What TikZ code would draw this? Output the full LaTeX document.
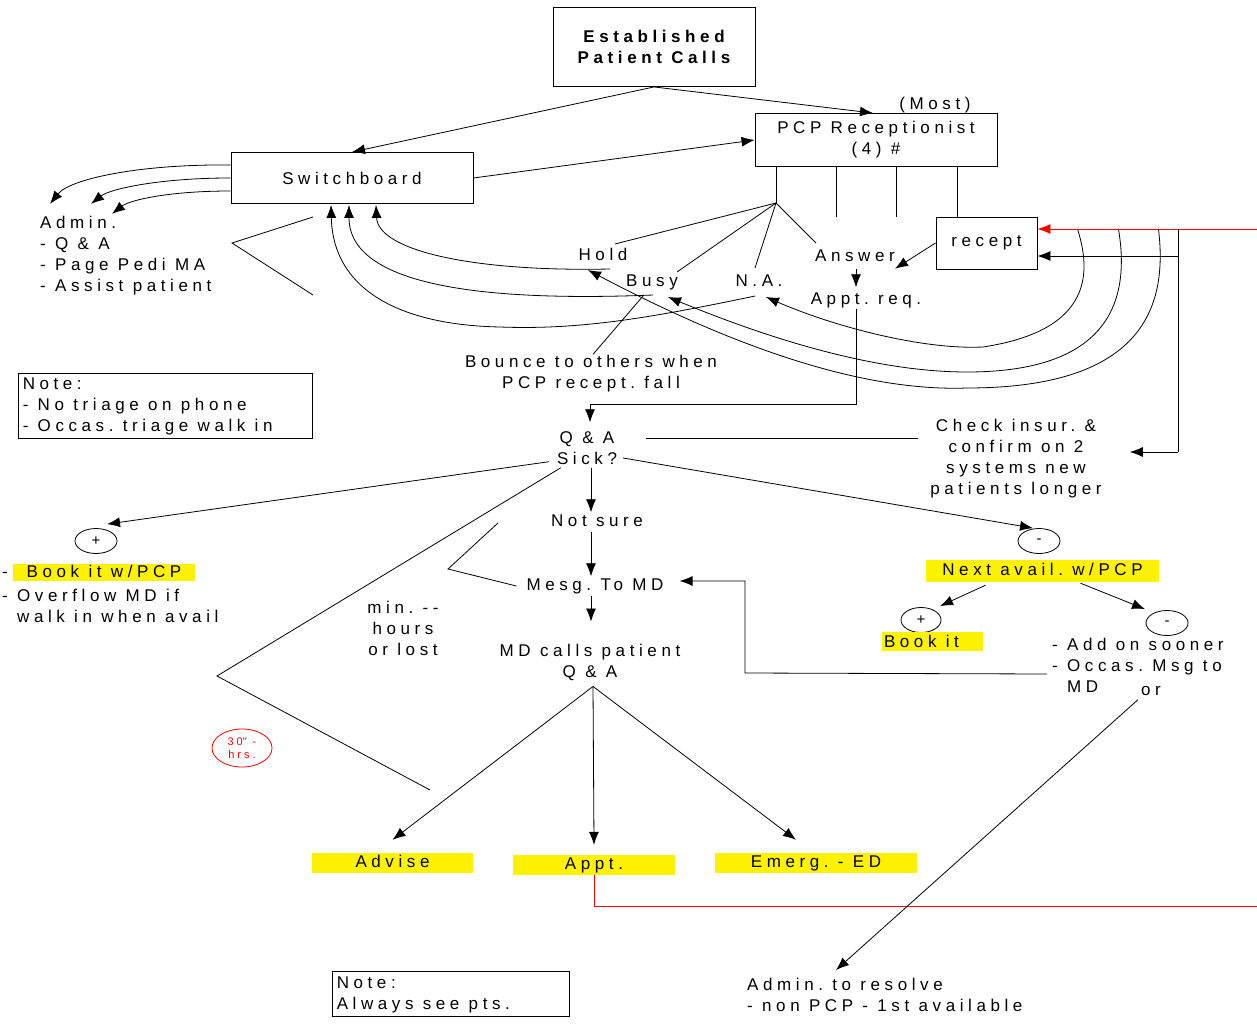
\documentclass[tikz,border=0pt]{standalone}
\usepackage{fontspec}
\setmainfont{Liberation Sans}[LetterSpace=27]
\usetikzlibrary{arrows.meta,calc,shapes.geometric}
\frenchspacing
\newcommand\fsz{\fontsize{17}{21}\selectfont\frenchspacing}
\begin{document}
\begin{tikzpicture}[x=1pt,y=-1pt,
  every node/.style={inner sep=0pt,font=\fsz},
  txt/.style={text height=12pt,text depth=3pt},
  box/.style={draw,line width=0.9pt},
  ln/.style={line width=0.8pt},
  arr/.style={ln,-{Latex[length=13pt,width=10pt]}},
  hl/.style={fill=yellow,txt},
  oval/.style={draw,ellipse,line width=0.8pt,font=\fontsize{15}{17}\selectfont,minimum width=42pt,minimum height=25pt},
]
\useasboundingbox (0,0) rectangle (1257,1024);
\fill[white] (0,0) rectangle (1257,1024);

% ---- nodes
\node[box,minimum width=202pt,minimum height=79pt,align=center,font=\fsz\bfseries] (est) at (654,47) {Established\\Patient Calls};
\node[box,minimum width=242pt,minimum height=51pt] (sw) at (352,178) {Switchboard};
\node[box,minimum width=242pt,minimum height=53pt,align=center] (pcp) at (876,140) {PCP Receptionist\\(4) \#};
\node (most) at (935,105) {(Most)};
\node[box,minimum width=101pt,minimum height=52pt] (recept) at (986.5,243) {recept};
\node[anchor=west,align=left] (admin) at (40,256) {Admin.\\- Q \& A\\- Page Pedi MA\\- Assist patient};
\node[txt] (hold) at (603,256) {Hold};
\node[txt] (busy) at (652,282) {Busy};
\node[txt] (na) at (759,282) {N.A.};
\node[txt] (answer) at (855,257) {Answer};
\node[txt] (apptreq) at (866,300) {Appt. req.};
\node[align=center] (bounce) at (591,374) {Bounce to others when\\PCP recept. fall};
\node[box,minimum width=294pt,minimum height=65pt] (note1) at (165,405.5) {};
\node[anchor=west,align=left] (note1t) at ($(note1.west)+(5,1)$) {Note:\\- No triage on phone\\- Occas. triage walk in};
\node[align=center] (qa) at (587,448) {Q \& A\\Sick?};
\node[align=center] (check) at (1016,459) {Check insur. \&\\confirm on 2\\systems new\\patients longer};
\node[txt] (notsure) at (597,522) {Not sure};
\node[txt] (mesg) at (595,586) {Mesg. To MD};
\node[align=center] (mdcalls) at (590,662) {MD calls patient\\Q \& A};
\node[align=center] (minh) at (403,628) {min. -{}-\\hours\\or lost};
\node[oval] (plus1) at (96,541) {+};
\node[oval] (minus1) at (1039,541) {-};
\node[oval,minimum width=40pt] (plus2) at (921,620) {+};
\node[oval] (minus2) at (1167,623) {-};
\node[txt] (dash1) at (5,573) {-};
\node[hl,minimum width=182pt,minimum height=17pt] (bookpcp) at (104,572.5) {Book it w/PCP};
\node[anchor=west,align=left] (overflow) at (2,606) {- Overflow MD if\\\hphantom{- }walk in when avail};
\node[hl,minimum width=233pt,minimum height=22pt] (nextav) at (1042.5,571) {Next avail. w/PCP};
\node[hl,minimum width=101pt,minimum height=19pt] (bookit) at (932.5,641.5) {};
\node[txt,anchor=west] (bookitt) at ($(bookit.west)+(2,1)$) {Book it};
\node[anchor=west,align=left] (addon) at (1052,665) {- Add on sooner\\- Occas. Msg to\\\hphantom{- }MD};
\node[txt] (ortext) at (1151,691) {or};
\node[hl,minimum width=161pt,minimum height=20pt] (adv) at (392.5,863) {Advise};
\node[hl,minimum width=162pt,minimum height=20pt] (appt) at (594,865) {Appt.};
\node[hl,minimum width=202pt,minimum height=20pt] (emerg) at (816,863) {Emerg. - ED};
\node[anchor=west,align=left] (resolve) at (747,995) {Admin. to resolve\\- non PCP - 1st available};
\node[box,minimum width=237pt,minimum height=45pt] (note2) at (450.5,993.5) {};
\node[anchor=west,align=left] (note2t) at ($(note2.west)+(5,1)$) {Note:\\Always see pts.};
\node[draw=red,ellipse,line width=0.8pt,text=red,minimum width=60pt,minimum height=38pt,align=center,font=\fontsize{11}{13}\selectfont] (thirty) at (242,748) {30\textquotedbl{} -\\hrs.};

% ---- coordinates
\coordinate (fan) at (776,203);
\coordinate (v2) at (836,217);
\coordinate (v3) at (896,217);
\coordinate (v4) at (957,217);
\coordinate (redin) at (1257,229);
\coordinate (vj) at (1178,229);
\coordinate (vb) at (1178,452);
\coordinate (r2) at ($(recept.east)+(0,13)$);
\coordinate (redout) at (1257,906);
\coordinate (mc) at (745,673);

% ---- connectors top
\draw[arr] (est.south) -- (sw.north);
\draw[arr] (est.south) -- ($(pcp.north)+(-3,0)$);
\draw[arr] (sw.east) -- (pcp.west);
\draw[arr] ($(sw.west)+(0,-13)$) .. controls +(-91,-1) and +(20,-25) .. ($(admin.north west)+(10,-12.5)$);
\draw[arr] (sw.west) .. controls +(-71,0) and +(19,-15) .. ($(admin.north west)+(51,-12.5)$);
\draw[arr] ($(sw.west)+(0,13)$) .. controls +(-61,0) and +(18,-14) .. ($(admin.north west)+(72,-2.5)$);
\draw[ln] (313,217) -- (232,243) -- (313,295);

\draw[ln] (fan |- pcp.south) -- (fan);
\draw[ln] (v2 |- pcp.south) -- (v2);
\draw[ln] (v3 |- pcp.south) -- (v3);
\draw[ln] (v4 |- pcp.south) -- (v4 |- recept.north);
\draw[ln] (fan) -- ($(hold)+(12,-12)$);
\draw[ln] (fan) -- ($(busy)+(25,-10)$);
\draw[ln] (fan) -- ($(na)+(-4,-14)$);
\draw[ln] (fan) -- ($(answer)+(-39,-14)$);
\draw[arr] ($(answer.south)+(1,4)$) -- ($(apptreq.north)+(-10,-5)$);
\draw[arr] (recept.west) -- ($(answer.south east)+(0,4)$);
\draw[arr] ($(apptreq.south)+(-10,1)$) |- ($(qa.north)+(3,-27)$) -- ($(qa.north)+(3,-9)$);

% curves into switchboard
\draw[arr] ($(hold)+(7,13)$) .. controls +(-140,3) and +(2,45) .. ($(sw.south)+(24,1)$);
\draw[arr] ($(busy)+(1,13)$) .. controls +(-173,7) and +(0,80) .. ($(sw.south)+(-3,1)$);
\draw[arr] ($(na)+(-4,14)$) .. controls +(-105,22) and +(80,3) .. (500,327) .. controls +(-100,-2) and +(2,85) .. ($(sw.south)+(-21,1)$);
\draw[ln] ($(bounce.north)+(2,-1)$) -- ($(busy)+(-9,14)$);

% big right curves
\draw[arr] ($(recept.east)+(40,-14)$) .. controls +(13,41) and +(112,-17) .. (983,347) .. controls +(-63,3) and +(64,28) .. ($(na)+(7,15)$);
\draw[arr] ($(recept.east)+(81,-14)$) .. controls +(12,71) and +(143,0) .. (967,372) .. controls +(-97,0) and +(92,38) .. ($(busy)+(16,15)$);
\draw[arr] ($(recept.east)+(121,-14)$) .. controls +(10,81) and +(173,0) .. (967,388) .. controls +(-107,4) and +(142,75) .. ($(hold)+(-15,14)$);

\draw[arr,red] (redin) -- (redin -| recept.east);
\draw[ln] (vj) -- (vb);
\draw[arr] (vb) -- ($(check.east)+(28,-7)$);
\draw[arr] (vj |- r2) -- (r2);

% middle
\draw[ln] ($(qa.east)+(29,-10)$) -- ($(check.west)+(-12,-21)$);
\draw[arr] ($(qa.south west)+(-8,-3)$) -- ($(plus1.north)+(11,-4)$);
\draw[arr] ($(qa.east)+(6,10)$) -- ($(minus1.north)+(-6,0)$);
\draw[arr] ($(qa.south)+(4,3)$) -- ($(notsure.north)+(-6,-2)$);
\draw[arr] ($(notsure.south)+(-6,2)$) -- ($(mesg.north)+(-4,-2)$);
\draw[arr] ($(mesg.south)+(-4,2)$) -- ($(mdcalls.north)+(1,-22)$);
\draw[ln] ($(qa.south west)+(4,3)$) -- (217,676) -- (430,790);
\draw[ln] (498,523) -- (448,569) -- ($(mesg.west)+(-10,0)$);

\draw[arr] ($(mdcalls.south)+(3,6)$) -- ($(adv.north)+(0,-13)$);
\draw[arr] ($(mdcalls.south)+(3,6)$) -- ($(appt.north)+(0,-10)$);
\draw[arr] ($(mdcalls.south)+(3,6)$) -- ($(emerg.north)+(-20,-13)$);
\draw[ln,red] (appt.south) |- (redout);

% right lower
\draw[arr] ($(nextav.south)+(-57,3)$) -- ($(plus2.north)+(19,-1)$);
\draw[arr] ($(nextav.south)+(38,1)$) -- ($(minus2.north)+(-22,-1)$);
\draw[arr] ($(addon.west)+(-5,9)$) -- (mc) |- ($(mesg.east)+(16,-5)$);
\draw[arr] ($(ortext.south west)+(-3,1)$) -- ($(resolve.north west)+(89,-8)$);
\end{tikzpicture}
\end{document}
